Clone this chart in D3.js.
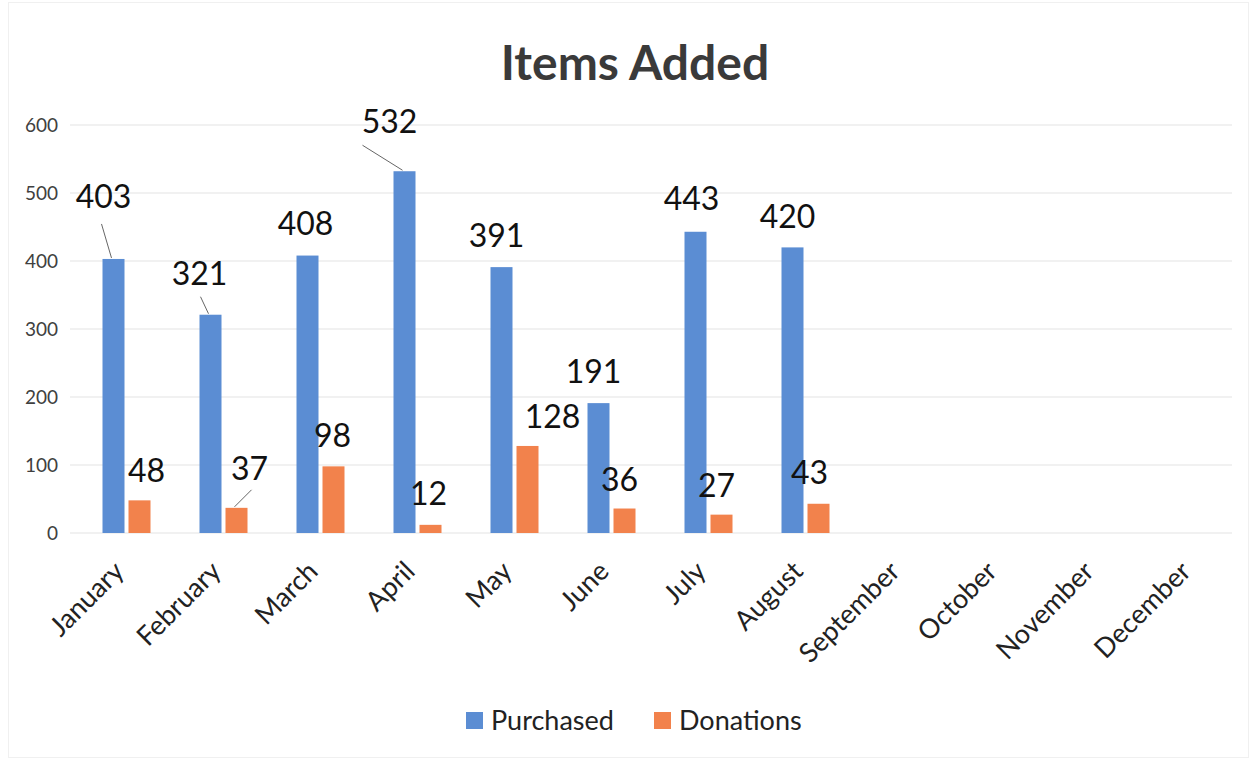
<!DOCTYPE html>
<html><head><meta charset="utf-8">
<script src="https://cdn.jsdelivr.net/npm/d3@7"></script>
<style>body{margin:0;background:#fff;font-family:Lato,"Open Sans",sans-serif}</style>
</head><body>
<svg id="c" width="1256" height="761"></svg>
<script>
const months = ["January","February","March","April","May","June","July","August","September","October","November","December"];
const purchased = [403,321,408,532,391,191,443,420,null,null,null,null];
const donations = [48,37,98,12,128,36,27,43,null,null,null,null];
const seriesNames = ["Purchased","Donations"];
const yTicks = [0,100,200,300,400,500,600];
// label offsets from bar top (layout, px)
const purchasedLabelOffset = [[-10,-51],[-11,-30],[-2,-21],[-15,-38],[-5,-20],[-5,-20],[-4,-22],[-5,-19]];
const donationsLabelOffset = [[7,-18],[13,-28],[-1,-19],[-2,-20],[25,-18],[-5,-18],[-5,-18],[-9,-20]];
// leader line start, relative to label anchor (null = no leader)
const purchasedLeader = [[-2,16],[1,12],null,[-27,12],null,null,null,null];
const donationsLeader = [null,[2,10],null,null,null,null,null,null];

const colors = ["#5b8dd3","#f2824c"];
const svg = d3.select("#c");
const m = {l:78, r:14};
const x = d3.scaleBand().domain(months).range([m.l, m.l+12*97]).paddingInner(0).paddingOuter(0);
const bw = x.bandwidth();
const xs = d3.scaleBand().domain(seriesNames).range([bw/2-24, bw/2+24]).paddingInner(4/26).paddingOuter(0);
const y = d3.scaleLinear().domain([0,600]).range([533,125]);

// border
svg.append("rect").attr("x",8.5).attr("y",2.5).attr("width",1240).attr("height",755).attr("fill","none").attr("stroke","#f0f0f0");

// title
svg.append("text").attr("x",635).attr("y",80).attr("text-anchor","middle")
  .attr("font-size",48).attr("font-weight",700).attr("fill","#3a3a3a").text("Items Added");

// gridlines
svg.append("g").selectAll("line").data(yTicks).join("line")
  .attr("x1",m.l-8).attr("x2",1232).attr("y1",d=>y(d)).attr("y2",d=>y(d))
  .attr("stroke","#ececec").attr("stroke-width",1.5);

// y axis
const ya = svg.append("g").attr("transform",`translate(${m.l-20},0)`)
  .call(d3.axisLeft(y).tickValues(yTicks).tickSize(0).tickPadding(0));
ya.select(".domain").remove();
ya.selectAll("text").attr("font-size",19).attr("fill","#404040").attr("font-family","Lato,'Open Sans',sans-serif");

// x axis
const xa = svg.append("g").attr("transform",`translate(0,${y(0)})`)
  .call(d3.axisBottom(x).tickSize(0).tickPadding(0));
xa.select(".domain").remove();
xa.selectAll("text")
  .attr("font-size",27).attr("fill","#222").attr("font-family","Lato,'Open Sans',sans-serif")
  .attr("text-anchor","end").attr("dy",0)
  .attr("transform","translate(-1,40) rotate(-45)");

const series = [
  {name:"Purchased", values:purchased, off:purchasedLabelOffset, leader:purchasedLeader, color:colors[0]},
  {name:"Donations", values:donations, off:donationsLabelOffset, leader:donationsLeader, color:colors[1]}
];
series.forEach(s=>{
  const data = months.map((mo,i)=>({mo, v:s.values[i], i})).filter(d=>d.v!=null);
  svg.append("g").selectAll("rect").data(data).join("rect")
    .attr("x",d=>x(d.mo)+xs(s.name)).attr("width",xs.bandwidth())
    .attr("y",d=>y(d.v)).attr("height",d=>y(0)-y(d.v)).attr("fill",s.color);
  const g = svg.append("g");
  data.forEach(d=>{
    const cx = x(d.mo)+xs(s.name)+xs.bandwidth()/2;
    const ty = y(d.v);
    const [dx,dy] = s.off[d.i];
    const lx = cx+dx, ly = ty+dy;
    g.append("text").attr("x",lx).attr("y",ly).attr("text-anchor","middle")
      .attr("font-size",32).attr("fill","#111").text(d.v);
    const ld = s.leader[d.i];
    if (ld) {
      g.append("line").attr("x1",lx+ld[0]).attr("y1",ly+ld[1])
        .attr("x2",cx-2).attr("y2",ty-1).attr("stroke","#666").attr("stroke-width",1);
    }
  });
});

// legend
const lg = svg.append("g").attr("transform","translate(466,712)");
series.forEach((s,i)=>{
  const gx = i===0?0:188;
  lg.append("rect").attr("x",gx).attr("y",0).attr("width",17).attr("height",17).attr("fill",s.color);
  lg.append("text").attr("x",gx+25).attr("y",18).attr("font-size",27).attr("fill","#222").text(s.name);
});
</script>
</body></html>
